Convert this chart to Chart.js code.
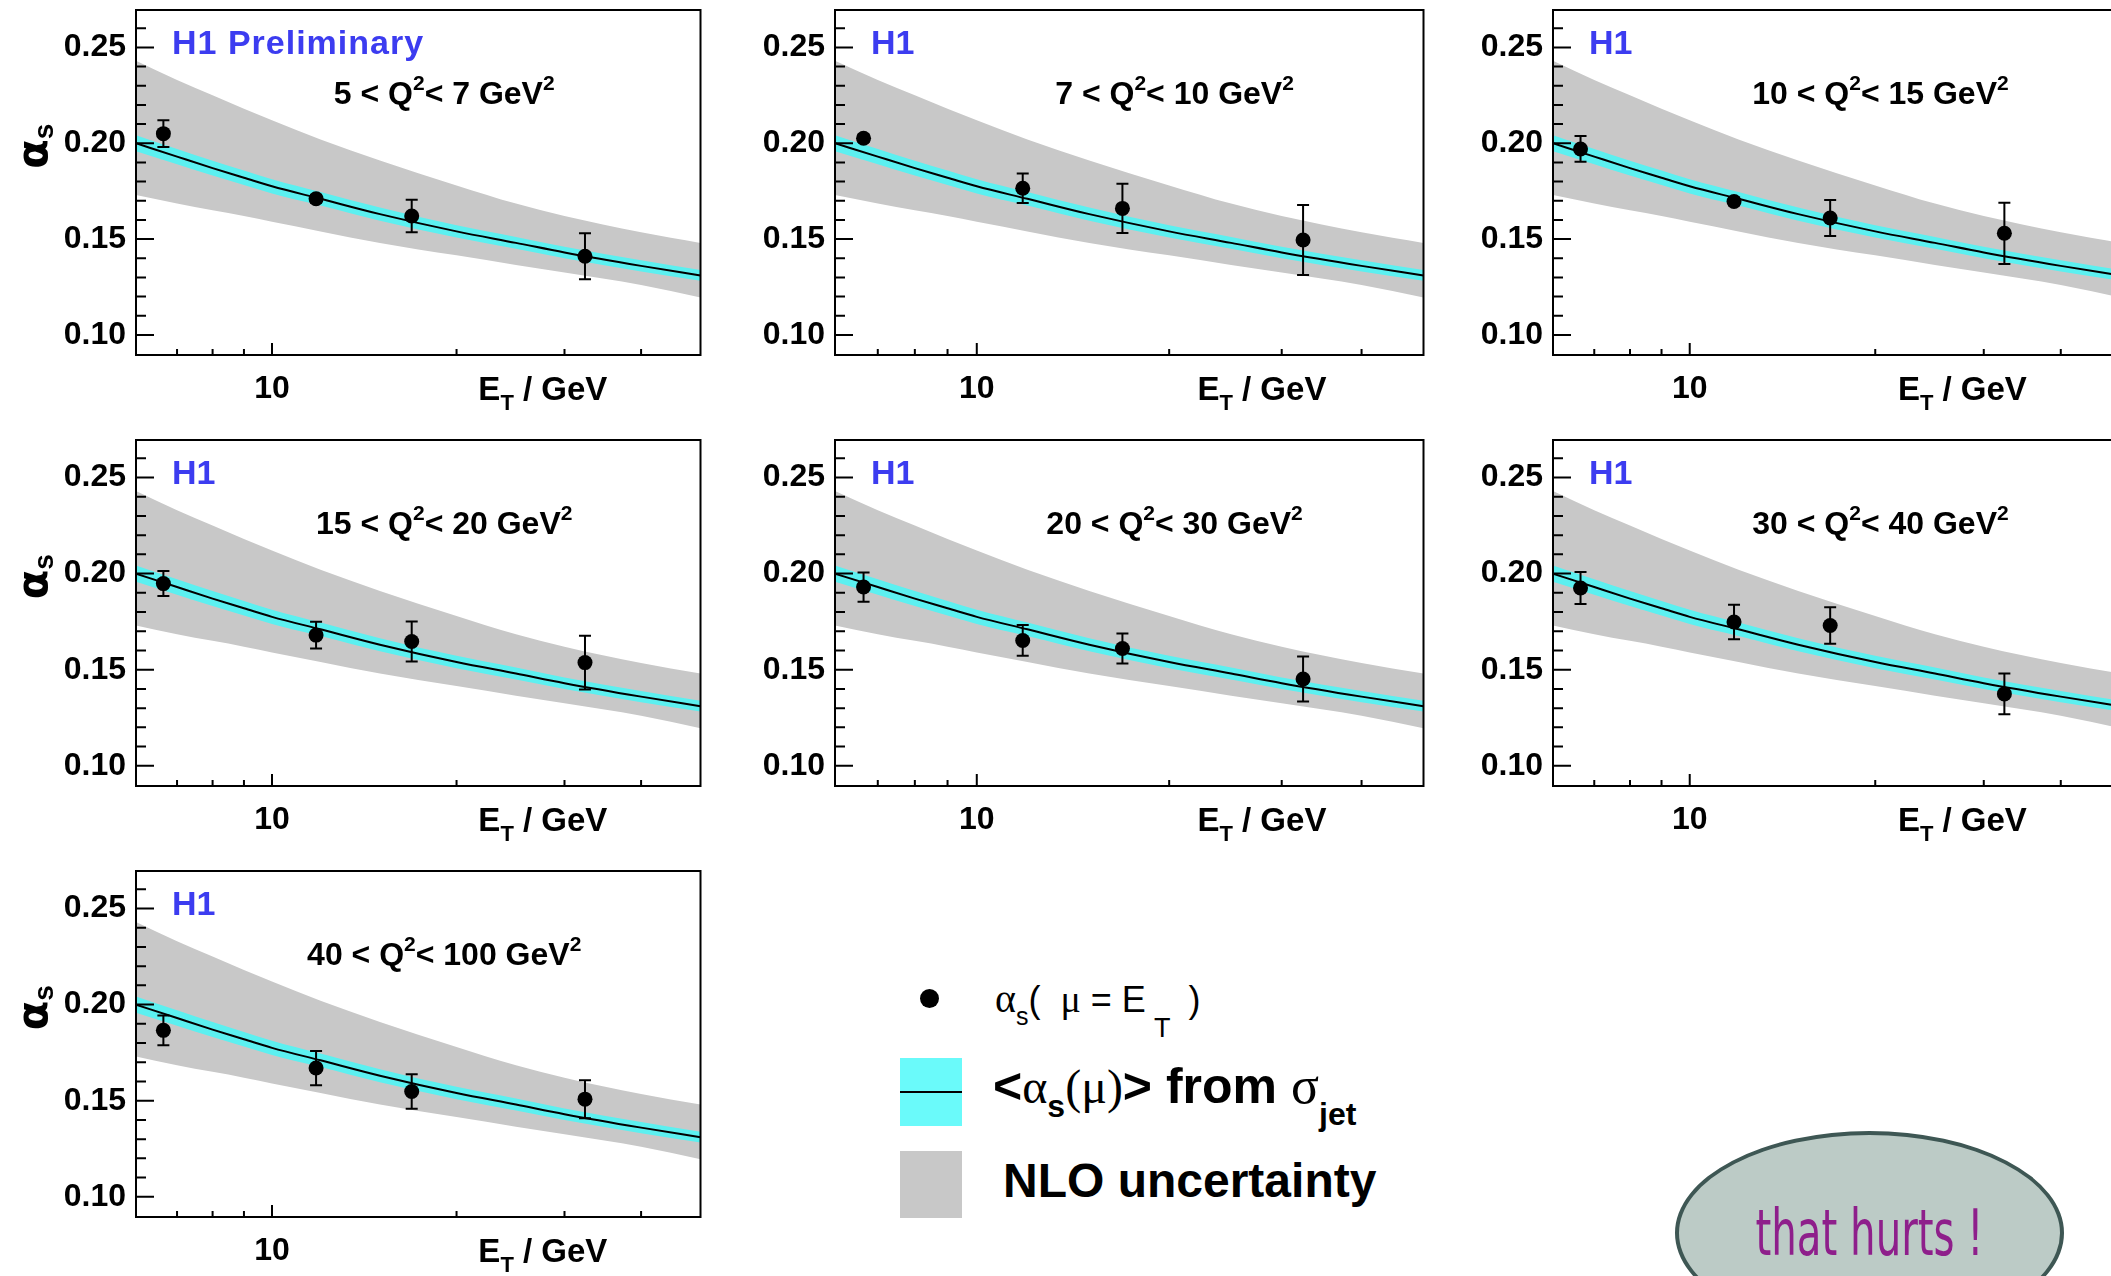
<!DOCTYPE html>
<html>
<head>
<meta charset="utf-8">
<title>H1 alpha_s vs E_T</title>
<script src="https://cdn.jsdelivr.net/npm/chart.js@4.4.1/dist/chart.umd.min.js"></script>
<style>
  html, body { margin: 0; padding: 0; background: #fff; }
  body { position: relative; width: 2111px; height: 1276px; overflow: hidden; }
  canvas.panel { position: absolute; }
  .leg { position: absolute; display: flex; align-items: baseline; white-space: pre; color: #000; line-height: 1; }
  .leg span { line-height: 1; }
  .sans { font-family: "Liberation Sans", Arial, sans-serif; }
  .serif { font-family: "Liberation Serif", "DejaVu Serif", serif; }
  .box { position: absolute; left: 900px; width: 62px; }
  #bubble {
    position: absolute; left: 1675px; top: 1131px; width: 389px; height: 204px;
    box-sizing: border-box; border: 4px solid #3e5754; border-radius: 50%;
    background: #bccbc6;
  }
  #bubble div {
    position: absolute; left: 0; right: 0; top: 66px; text-align: center;
    font-family: "Liberation Sans Narrow", "DejaVu Sans Condensed", sans-serif;
    font-size: 64px; line-height: 1; color: #8e1f8b;
    transform: scaleX(0.7);
  }
</style>
</head>
<body>

<!-- legend -->
<div class="leg sans" style="left:920px; top:990px; font-size:20px;"><span style="display:inline-block;width:19px;height:19px;border-radius:50%;background:#000;position:relative;top:-1px;"></span></div>
<div class="leg sans" style="left:995px; top:979px;">
  <span class="serif" style="font-size:40px;">α</span><span style="font-size:25px;position:relative;top:13px;">s</span><span style="font-size:36px;">(  </span><span class="serif" style="font-size:38px;">μ</span><span style="font-size:36px;"> = E</span><span style="font-size:27px;position:relative;top:25px;margin-left:8px;">T</span><span style="font-size:36px;margin-left:18px;">)</span>
</div>
<div class="box" style="top:1058px;height:68px;background:#6afafa;"></div>
<div class="box" style="top:1091px;height:2px;background:#000;"></div>
<div class="leg sans" style="left:993px; top:1060px; font-weight:bold;">
  <span style="font-size:50px;">&lt;</span><span class="serif" style="font-size:48px;font-weight:normal;">α</span><span style="font-size:32px;position:relative;top:14px;">s</span><span class="serif" style="font-size:48px;font-weight:normal;">(μ)</span><span style="font-size:50px;">&gt; from </span><span class="serif" style="font-size:52px;font-weight:normal;">σ</span><span style="font-size:32px;position:relative;top:22px;">jet</span>
</div>
<div class="box" style="top:1151px;height:67px;background:#c8c8c8;"></div>
<div class="leg sans" style="left:1003px; top:1157px; font-weight:bold;"><span style="font-size:48px;">NLO uncertainty</span></div>

<div id="bubble"><div>that hurts !</div></div>

<script>
// measured points: E_T bin centres (GeV)
var etPoints = [6.65, 11.8, 16.9, 32.4];

// Q^2 bins (GeV^2)
var q2Lo = [5, 7, 10, 15, 20, 30, 40];
var q2Hi = [7, 10, 15, 20, 30, 40, 100];

// alpha_s(mu = E_T) per Q^2 bin and its error
var alphaVals = [
  [0.205, 0.171, 0.162, 0.141],
  [0.2026, 0.1765, 0.166, 0.1495],
  [0.197, 0.1696, 0.161, 0.153],
  [0.1948, 0.168, 0.1647, 0.1537],
  [0.193, 0.1652, 0.161, 0.1452],
  [0.1925, 0.1748, 0.173, 0.1374],
  [0.1866, 0.167, 0.1548, 0.1508]
];
var alphaErr = [
  [0.007, 0.002, 0.0085, 0.012],
  [0.002, 0.0077, 0.0128, 0.0183],
  [0.0067, 0.002, 0.0094, 0.016],
  [0.0065, 0.007, 0.0104, 0.014],
  [0.0076, 0.008, 0.0078, 0.0117],
  [0.0083, 0.009, 0.0095, 0.0106],
  [0.0077, 0.0089, 0.009, 0.0099]
];

// <alpha_s(mu)> from sigma_jet, its fit band and the NLO uncertainty band
var curveEt  = [6, 7, 8, 9, 10, 12, 15, 20, 25, 30, 40, 50];
var curveMid = [0.200, 0.193, 0.187, 0.182, 0.1775, 0.171, 0.163, 0.154, 0.148, 0.143, 0.136, 0.131];
var fitUp    = [0.2042, 0.1970, 0.1909, 0.1858, 0.1812, 0.1745, 0.1664, 0.1572, 0.1511, 0.1460, 0.1389, 0.1338];
var fitLo    = [0.1958, 0.1890, 0.1831, 0.1782, 0.1738, 0.1675, 0.1596, 0.1508, 0.1449, 0.1400, 0.1331, 0.1282];
var nloUp    = [0.243, 0.233, 0.225, 0.218, 0.212, 0.202, 0.191, 0.178, 0.1685, 0.162, 0.1535, 0.148];
var nloLo    = [0.173, 0.1685, 0.165, 0.162, 0.159, 0.154, 0.148, 0.1415, 0.1365, 0.1325, 0.126, 0.1195];

// axis ticks
var xMajorTicks = [10];
var xMinorTicks = [7, 8, 9, 20, 30, 40];
var yMajorTicks = [0.10, 0.15, 0.20, 0.25];
var yMinorTicks = [0.11, 0.12, 0.13, 0.14, 0.16, 0.17, 0.18, 0.19, 0.21, 0.22, 0.23, 0.24, 0.26];

// pad frames on the page
var frames = [
  {x: 136,  y: 10,  w: 568, h: 345},
  {x: 835,  y: 10,  w: 592, h: 345},
  {x: 1553, y: 10,  w: 571, h: 345},
  {x: 136,  y: 440, w: 568, h: 346},
  {x: 835,  y: 440, w: 592, h: 346},
  {x: 1553, y: 440, w: 571, h: 346},
  {x: 136,  y: 871, w: 568, h: 346}
];

var SANS = '"Liberation Sans", Arial, Helvetica, sans-serif';

function xy(xs, ys) {
  return xs.map(function (x, k) { return {x: x, y: ys[k]}; });
}

function drawParts(ctx, parts, x, y, align) {
  var total = 0;
  parts.forEach(function (p) {
    ctx.font = p.font;
    p.w = ctx.measureText(p.t).width + (p.gap || 0);
    total += p.w;
  });
  var cx = x;
  if (align === 'center') cx = x - total / 2;
  if (align === 'right') cx = x - total;
  parts.forEach(function (p) {
    ctx.font = p.font;
    ctx.fillText(p.t, cx, y + (p.dy || 0));
    cx += p.w;
  });
}

// frame, inward ticks, error bars and the pad texts
var padDeco = {
  id: 'padDeco',
  afterDatasetsDraw: function (chart, args, opts) {
    var ctx = chart.ctx, xs = chart.scales.x, ys = chart.scales.y;
    var vals = alphaVals[opts.idx], errs = alphaErr[opts.idx];
    ctx.save();
    ctx.strokeStyle = '#000';
    ctx.lineWidth = 2;
    etPoints.forEach(function (et, k) {
      var px = xs.getPixelForValue(et);
      var y1 = ys.getPixelForValue(vals[k] + errs[k]);
      var y2 = ys.getPixelForValue(vals[k] - errs[k]);
      ctx.beginPath();
      ctx.moveTo(px, y1); ctx.lineTo(px, y2);
      ctx.moveTo(px - 6, y1); ctx.lineTo(px + 6, y1);
      ctx.moveTo(px - 6, y2); ctx.lineTo(px + 6, y2);
      ctx.stroke();
    });
    ctx.restore();
  },
  afterDraw: function (chart, args, opts) {
    var ctx = chart.ctx, a = chart.chartArea;
    var xs = chart.scales.x, ys = chart.scales.y;
    var w = a.right - a.left, h = a.bottom - a.top;
    ctx.save();
    ctx.strokeStyle = '#000';
    ctx.lineWidth = 2;
    ctx.strokeRect(a.left, a.top, w, h);

    ctx.beginPath();
    yMajorTicks.forEach(function (v) {
      var py = ys.getPixelForValue(v);
      ctx.moveTo(a.left, py); ctx.lineTo(a.left + 18, py);
    });
    yMinorTicks.forEach(function (v) {
      var py = ys.getPixelForValue(v);
      ctx.moveTo(a.left, py); ctx.lineTo(a.left + 10, py);
    });
    xMajorTicks.forEach(function (v) {
      var px = xs.getPixelForValue(v);
      ctx.moveTo(px, a.bottom); ctx.lineTo(px, a.bottom - 12);
    });
    xMinorTicks.forEach(function (v) {
      var px = xs.getPixelForValue(v);
      ctx.moveTo(px, a.bottom); ctx.lineTo(px, a.bottom - 6);
    });
    ctx.stroke();

    ctx.textBaseline = 'alphabetic';
    ctx.textAlign = 'left';

    // experiment tag
    ctx.fillStyle = '#3c3cf0';
    if (opts.idx === 0) ctx.letterSpacing = '1px';
    drawParts(ctx, [{t: opts.idx === 0 ? 'H1 Preliminary' : 'H1', font: 'bold 34px ' + SANS}],
      a.left + 36, a.top + 44, 'left');
    ctx.letterSpacing = '0px';

    // Q^2 range
    ctx.fillStyle = '#000';
    var big = 'bold 32px ' + SANS, sup = 'bold 21px ' + SANS;
    drawParts(ctx, [
      {t: q2Lo[opts.idx] + ' < Q', font: big},
      {t: '2', font: sup, dy: -14},
      {t: '< ' + q2Hi[opts.idx] + ' GeV', font: big},
      {t: '2', font: sup, dy: -14}
    ], a.left + opts.labelAt * w, a.top + 94, 'center');

    // x axis title
    drawParts(ctx, [
      {t: 'E', font: 'bold 33px ' + SANS},
      {t: 'T', font: 'bold 22px ' + SANS, dy: 10},
      {t: ' / GeV', font: 'bold 33px ' + SANS}
    ], a.left + 0.835 * w, a.bottom + 45, 'right');

    // y axis title on the left column
    if (opts.yTitle) {
      ctx.translate(35, a.top + 0.395 * h);
      ctx.rotate(-Math.PI / 2);
      drawParts(ctx, [
        {t: 'α', font: 'bold 43px "DejaVu Sans", sans-serif'},
        {t: 's', font: 'bold 28px ' + SANS, dy: 6}
      ], 0, 12, 'center');
    }
    ctx.restore();
  }
};

function makeConfig(i) {
  var col = i % 3;
  return {
    type: 'line',
    data: {
      datasets: [
        {
          data: xy(etPoints, alphaVals[i]), showLine: false,
          pointRadius: 7.5, pointBackgroundColor: '#000', pointBorderWidth: 0, order: 0
        },
        {
          data: xy(curveEt, curveMid), borderColor: '#000', borderWidth: 2,
          pointRadius: 0, cubicInterpolationMode: 'monotone', order: 1
        },
        {
          data: xy(curveEt, fitUp), borderWidth: 0, borderColor: 'rgba(0,0,0,0)',
          backgroundColor: '#5cf0f0', fill: '+1', pointRadius: 0,
          cubicInterpolationMode: 'monotone', order: 2
        },
        {
          data: xy(curveEt, fitLo), borderWidth: 0, borderColor: 'rgba(0,0,0,0)',
          fill: false, pointRadius: 0, cubicInterpolationMode: 'monotone', order: 2
        },
        {
          data: xy(curveEt, nloUp), borderWidth: 0, borderColor: 'rgba(0,0,0,0)',
          backgroundColor: '#c8c8c8', fill: '+1', pointRadius: 0,
          cubicInterpolationMode: 'monotone', order: 3
        },
        {
          data: xy(curveEt, nloLo), borderWidth: 0, borderColor: 'rgba(0,0,0,0)',
          fill: false, pointRadius: 0, cubicInterpolationMode: 'monotone', order: 3
        }
      ]
    },
    options: {
      responsive: false,
      animation: false,
      events: [],
      layout: {padding: {top: 10, right: 4, left: 0, bottom: 0}},
      plugins: {
        legend: {display: false},
        tooltip: {enabled: false},
        padDeco: {idx: i, yTitle: col === 0, labelAt: col === 0 ? 0.546 : 0.577}
      },
      scales: {
        x: {
          type: 'logarithmic', min: 6, max: 50,
          grid: {display: false, drawTicks: false},
          border: {display: false},
          afterBuildTicks: function (s) {
            s.ticks = xMajorTicks.map(function (v) { return {value: v}; });
          },
          afterFit: function (s) {
            s.height = 70; s.paddingLeft = 0; s.paddingRight = 0;
          },
          ticks: {
            autoSkip: false, maxRotation: 0, padding: 15, color: '#000',
            font: {family: SANS, size: 32, weight: 'bold'},
            callback: function (v) { return String(v); }
          }
        },
        y: {
          min: 0.0895, max: 0.2695,
          grid: {display: false, drawTicks: false},
          border: {display: false},
          afterBuildTicks: function (s) {
            s.ticks = yMajorTicks.map(function (v) { return {value: v}; });
          },
          afterFit: function (s) {
            s.width = 136; s.paddingTop = 0; s.paddingBottom = 0;
          },
          ticks: {
            padding: 10, color: '#000',
            font: {family: SANS, size: 32, weight: 'bold'},
            callback: function (v) { return Number(v).toFixed(2); }
          }
        }
      }
    },
    plugins: [padDeco]
  };
}

frames.forEach(function (f, i) {
  var cv = document.createElement('canvas');
  cv.className = 'panel';
  cv.width = f.w + 140;
  cv.height = f.h + 80;
  cv.style.left = (f.x - 136) + 'px';
  cv.style.top = (f.y - 10) + 'px';
  document.body.appendChild(cv);
  new Chart(cv, makeConfig(i));
});
</script>
</body>
</html>
